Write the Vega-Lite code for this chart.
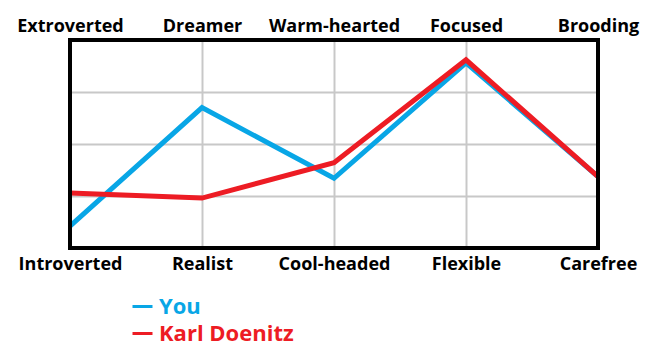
{
  "$schema": "https://vega.github.io/schema/vega-lite/v6.json",
  "width": 528,
  "height": 208,
  "autosize": {"type": "none"},
  "padding": {"left": 70, "top": 40, "right": 72, "bottom": 102},
  "background": "white",
  "config": {
    "view": {"stroke": null},
    "font": "Open Sans",
    "axis": {"gridColor": "#c8c8c8", "gridWidth": 2, "gridOpacity": 1}
  },
  "data": {
    "values": [
      {"high": "Extroverted", "low": "Introverted", "series": "You", "value": 10.5},
      {"high": "Dreamer", "low": "Realist", "series": "You", "value": 67.5},
      {"high": "Warm-hearted", "low": "Cool-headed", "series": "You", "value": 33.5},
      {"high": "Focused", "low": "Flexible", "series": "You", "value": 89},
      {"high": "Brooding", "low": "Carefree", "series": "You", "value": 34.3},
      {"high": "Extroverted", "low": "Introverted", "series": "Karl Doenitz", "value": 26.5},
      {"high": "Dreamer", "low": "Realist", "series": "Karl Doenitz", "value": 24},
      {"high": "Warm-hearted", "low": "Cool-headed", "series": "Karl Doenitz", "value": 41},
      {"high": "Focused", "low": "Flexible", "series": "Karl Doenitz", "value": 90.5},
      {"high": "Brooding", "low": "Carefree", "series": "Karl Doenitz", "value": 34.3}
    ]
  },
  "resolve": {"scale": {"x": "independent"}, "axis": {"x": "independent"}},
  "layer": [
    {
      "mark": {"type": "point", "opacity": 0},
      "encoding": {
        "x": {
          "field": "low",
          "type": "ordinal",
          "sort": null,
          "scale": {"type": "point", "padding": 0},
          "axis": {
            "orient": "bottom",
            "title": null,
            "labelAngle": 0,
            "ticks": false,
            "tickSize": 0,
            "domain": false,
            "grid": false,
            "labelPadding": 21,
            "labelBaseline": "alphabetic",
            "labelFont": "Open Sans",
            "labelFontSize": 18,
            "labelFontWeight": "bold",
            "labelColor": "black"
          }
        },
        "y": {
          "field": "value",
          "type": "quantitative",
          "scale": {"domain": [0, 100]},
          "axis": {
            "values": [25, 50, 75],
            "labels": false,
            "ticks": false,
            "domain": false,
            "grid": true,
            "title": null
          }
        }
      }
    },
    {
      "mark": {"type": "line", "strokeWidth": 5, "strokeJoin": "miter"},
      "encoding": {
        "x": {
          "field": "high",
          "type": "ordinal",
          "sort": null,
          "scale": {"type": "point", "padding": 0},
          "axis": {
            "orient": "top",
            "title": null,
            "labelAngle": 0,
            "ticks": false,
            "tickSize": 0,
            "domain": false,
            "grid": true,
            "labelPadding": 9,
            "labelBaseline": "alphabetic",
            "labelFont": "Open Sans",
            "labelFontSize": 18,
            "labelFontWeight": "bold",
            "labelColor": "black"
          }
        },
        "y": {
          "field": "value",
          "type": "quantitative",
          "scale": {"domain": [0, 100]},
          "axis": {
            "values": [25, 50, 75],
            "labels": false,
            "ticks": false,
            "domain": false,
            "grid": true,
            "title": null
          }
        },
        "color": {
          "field": "series",
          "type": "nominal",
          "sort": ["You", "Karl Doenitz"],
          "scale": {"domain": ["You", "Karl Doenitz"], "range": ["#08a6e6", "#ed1c24"]},
          "legend": {
            "title": null,
            "orient": "none",
            "legendX": 61,
            "legendY": 255,
            "direction": "vertical",
            "symbolType": "stroke",
            "symbolSize": 400,
            "symbolStrokeWidth": 3,
            "labelFont": "Open Sans",
            "labelFontSize": 22,
            "labelFontWeight": "bold",
            "labelOffset": 5,
            "rowPadding": 4,
            "labelColor": {"expr": "datum.value == 'You' ? '#08a6e6' : '#ed1c24'"}
          }
        }
      }
    },
    {
      "data": {"values": [{"from": "Extroverted", "to": "Brooding", "lo": 0, "hi": 100}]},
      "mark": {"type": "rect", "fill": null, "stroke": "black", "strokeWidth": 4},
      "encoding": {
        "x": {
          "field": "from",
          "type": "ordinal",
          "scale": {"type": "point", "padding": 0, "domain": ["Extroverted", "Brooding"]},
          "axis": null
        },
        "x2": {"field": "to"},
        "y": {"field": "lo", "type": "quantitative"},
        "y2": {"field": "hi"}
      }
    }
  ]
}
